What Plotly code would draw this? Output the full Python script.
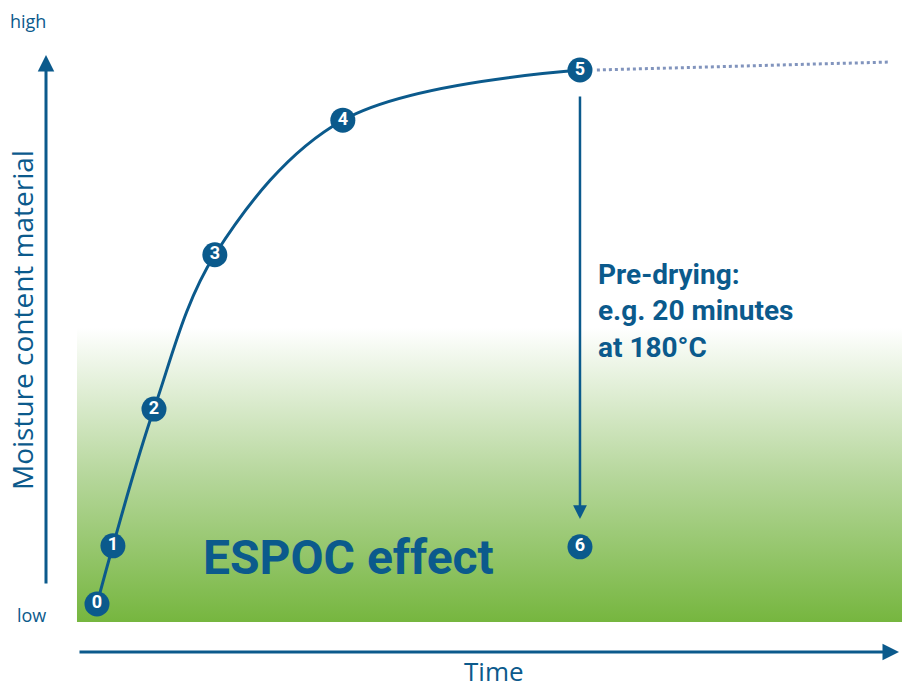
import plotly.graph_objects as go

# Stage points (time in arbitrary units, moisture in % of max)
stage_labels = ["0", "1", "2", "3", "4", "5"]
stage_time = [0.0, 3.3, 11.8, 24.4, 50.9, 100.0]
stage_moisture = [0.0, 10.9, 36.5, 65.4, 90.6, 100.0]

# Point 6: after pre-drying
dried_label = ["6"]
dried_time = [100.0]
dried_moisture = [10.7]

# Continuation without pre-drying (dotted)
cont_time = [103.5, 164.2]
cont_moisture = [100.0, 101.5]

# ESPOC effect zone
zone_time = [-4.14, 166.7]
zone_moisture = [-3.37, 51.7]

DARK = "#0b5a8c"
GREEN = "#76b63f"
FONT = "Open Sans"

fig = go.Figure()

# gradient zone
fig.add_trace(go.Scatter(
    x=[zone_time[0], zone_time[1], zone_time[1], zone_time[0], zone_time[0]],
    y=[zone_moisture[0], zone_moisture[0], zone_moisture[1], zone_moisture[1], zone_moisture[0]],
    mode="lines", line=dict(width=0), fill="toself",
    fillgradient=dict(type="vertical", start=zone_moisture[0], stop=zone_moisture[1],
                      colorscale=[[0, GREEN], [0.5, "#b6d79c"], [1, "rgba(255,255,255,1)"]]),
    hoverinfo="skip", showlegend=False))

# curve
fig.add_trace(go.Scatter(
    x=stage_time, y=stage_moisture, mode="lines",
    line=dict(color=DARK, width=3, shape="spline", smoothing=1.0),
    hoverinfo="skip", showlegend=False))

# dotted continuation
fig.add_trace(go.Scatter(
    x=cont_time, y=cont_moisture, mode="lines",
    line=dict(color="#8194bd", width=3, dash="dot"),
    hoverinfo="skip", showlegend=False))

# markers
fig.add_trace(go.Scatter(
    x=stage_time + dried_time, y=stage_moisture + dried_moisture,
    mode="markers+text", text=stage_labels + dried_label,
    textposition="middle center",
    textfont=dict(color="white", size=18, family="Roboto", weight="bold"),
    marker=dict(size=25, color=DARK, line=dict(width=0)),
    hoverinfo="skip", showlegend=False))

ann = []
# y axis arrow
ann.append(dict(x=-20.08 + 46/4.83, y=113.1 - 55/5.34, ax=-20.08 + 46/4.83, ay=113.1 - 585/5.34,
                xref="x", yref="y", axref="x", ayref="y", showarrow=True, text="",
                arrowhead=2, arrowsize=1.1, arrowwidth=3, arrowcolor=DARK))
# x axis arrow
ann.append(dict(x=-20.08 + 899/4.83, y=113.1 - 652/5.34, ax=-20.08 + 78/4.83, ay=113.1 - 652/5.34,
                xref="x", yref="y", axref="x", ayref="y", showarrow=True, text="",
                arrowhead=2, arrowsize=1.1, arrowwidth=3, arrowcolor=DARK))
# pre-drying arrow
ann.append(dict(x=dried_time[0], y=113.1 - 519/5.34, ax=stage_time[5], ay=113.1 - 95/5.34,
                xref="x", yref="y", axref="x", ayref="y", showarrow=True, text="",
                arrowhead=2, arrowsize=1.1, arrowwidth=2.5, arrowcolor=DARK))

def txt(x_px, y_px, s, size, bold=False, angle=0, xanchor="center"):
    return dict(xref="paper", yref="paper", x=x_px/902, y=1 - y_px/689, text=s,
                showarrow=False, xanchor=xanchor, yanchor="middle", textangle=angle,
                font=dict(family="Roboto" if bold else FONT, size=size, color=DARK,
                          weight="bold" if bold else "normal"))

ann.append(txt(28, 21, "high", 18))
ann.append(txt(31, 615, "low", 18))
ann.append(txt(22, 320, "Moisture content material", 28, angle=-90))
ann.append(txt(494, 671, "Time", 26))
ann.append(txt(348, 557, "ESPOC effect", 48, bold=True))
ann.append(dict(xref="paper", yref="paper", x=596/902, y=1 - 256/689,
                text="Pre-drying:<br>e.g. 20 minutes<br>at 180°C", showarrow=False,
                xanchor="left", yanchor="top", align="left",
                font=dict(family="Roboto", size=28, color=DARK, weight="bold")))

fig.update_layout(
    width=902, height=689, margin=dict(l=0, r=0, t=0, b=0),
    paper_bgcolor="white", plot_bgcolor="white",
    xaxis=dict(range=[-20.08, 166.67], visible=False, fixedrange=True),
    yaxis=dict(range=[-15.92, 113.11], visible=False, fixedrange=True),
    annotations=ann, showlegend=False)

fig.write_html("out.html", config={"displayModeBar": False},
               post_script="document.body.style.margin='0px';document.body.style.overflow='hidden';")
